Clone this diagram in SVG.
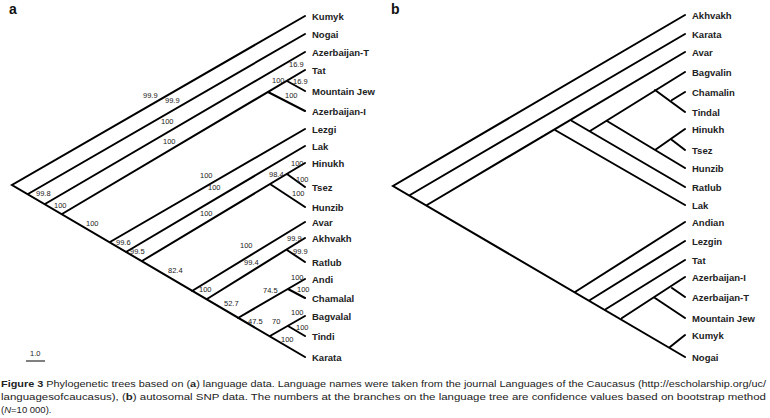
<svg xmlns="http://www.w3.org/2000/svg" width="770" height="418" viewBox="0 0 770 418">
<style>
.e{stroke:#000;stroke-width:2;fill:none;stroke-linecap:round}
.l{font-family:"Liberation Sans",Arial,sans-serif;font-size:9.5px;font-weight:bold;fill:#222}
.n{font-family:"Liberation Sans",Arial,sans-serif;font-size:7.5px;fill:#222}
.p{font-family:"Liberation Sans",Arial,sans-serif;font-size:14px;font-weight:bold;fill:#111}
.c{font-family:"Liberation Sans",Arial,sans-serif;font-size:9.5px;fill:#222}
</style>
<rect width="770" height="418" fill="#fff"/>
<text class="p" x="9" y="14">a</text>
<text class="p" x="391" y="14">b</text>
<g id="connectors">
<path class="e" d="M305,16L12,185L305,357M28,194L305,34M45,204L305,52M62,214L305,70M268,92L305,111M287,81L305,91M110,242L305,129M126,252L305,146M142,261L305,163M270,184L305,207M287,174L305,187M192,291L305,222M207,299L305,238M287,250L305,262M238,318L305,279M288,289L305,298M270,336L305,316M288,326L305,336"/>
<path class="e" d="M685,15L393,186L685,357M410,195L685,34M427,205L685,52M555,130L685,205M572,121L685,187M590,131L685,72M607,121L685,168M655,90L685,112M672,100L685,92M655,150L685,129M672,140L685,150M575,292L685,222M590,300L685,241M606,309L685,260M622,318L685,277M655,298L685,318M672,288L685,297M670,347L685,335"/>
<path d="M26,361H45" stroke="#000" stroke-width="1"/>
</g>
<g id="tree-a-labels">
<text class="l" x="312" y="20">Kumyk</text><text class="l" x="312" y="38">Nogai</text><text class="l" x="312" y="56">Azerbaijan-T</text><text class="l" x="312" y="74">Tat</text><text class="l" x="312" y="95">Mountain Jew</text><text class="l" x="312" y="115">Azerbaijan-I</text><text class="l" x="312" y="133">Lezgi</text><text class="l" x="312" y="150">Lak</text><text class="l" x="312" y="167">Hinukh</text><text class="l" x="312" y="191">Tsez</text><text class="l" x="312" y="211">Hunzib</text><text class="l" x="312" y="226">Avar</text><text class="l" x="312" y="242">Akhvakh</text><text class="l" x="312" y="266">Ratlub</text><text class="l" x="312" y="283">Andi</text><text class="l" x="312" y="302">Chamalal</text><text class="l" x="312" y="320">Bagvalal</text><text class="l" x="312" y="340">Tindi</text><text class="l" x="312" y="361">Karata</text>
</g>
<g id="tree-a-values">
<text class="n" x="143" y="98">99.9</text><text class="n" x="165" y="103">99.9</text><text class="n" x="161" y="124">100</text><text class="n" x="163" y="144">100</text><text class="n" x="289" y="67">16.9</text><text class="n" x="272" y="83">100</text><text class="n" x="293" y="84">16.9</text><text class="n" x="285" y="98">100</text><text class="n" x="200" y="178">100</text><text class="n" x="208" y="190">100</text><text class="n" x="291" y="166">100</text><text class="n" x="269" y="177">98.4</text><text class="n" x="296" y="182">100</text><text class="n" x="36" y="196">99.8</text><text class="n" x="54" y="208">100</text><text class="n" x="86" y="226">100</text><text class="n" x="292" y="196">100</text><text class="n" x="200" y="216">100</text><text class="n" x="116" y="245">99.6</text><text class="n" x="130" y="254">99.5</text><text class="n" x="168" y="273">82.4</text><text class="n" x="240" y="248">100</text><text class="n" x="287" y="241">99.9</text><text class="n" x="293" y="254">99.9</text><text class="n" x="244" y="265">99.4</text><text class="n" x="199" y="292">100</text><text class="n" x="224" y="306">52.7</text><text class="n" x="263" y="293">74.5</text><text class="n" x="291" y="280">100</text><text class="n" x="297" y="292">100</text><text class="n" x="248" y="324">47.5</text><text class="n" x="272" y="324">70</text><text class="n" x="291" y="315">100</text><text class="n" x="296" y="330">100</text><text class="n" x="281" y="342">100</text>
<text class="n" x="30" y="356">1.0</text>
</g>
<g id="tree-b-labels">
<text class="l" x="692" y="19">Akhvakh</text><text class="l" x="692" y="38">Karata</text><text class="l" x="692" y="56">Avar</text><text class="l" x="692" y="76">Bagvalin</text><text class="l" x="692" y="96">Chamalin</text><text class="l" x="692" y="116">Tindal</text><text class="l" x="692" y="133">Hinukh</text><text class="l" x="692" y="154">Tsez</text><text class="l" x="692" y="172">Hunzib</text><text class="l" x="692" y="191">Ratlub</text><text class="l" x="692" y="209">Lak</text><text class="l" x="692" y="226">Andian</text><text class="l" x="692" y="245">Lezgin</text><text class="l" x="692" y="264">Tat</text><text class="l" x="692" y="281">Azerbaijan-I</text><text class="l" x="692" y="301">Azerbaijan-T</text><text class="l" x="692" y="322">Mountain Jew</text><text class="l" x="692" y="339">Kumyk</text><text class="l" x="692" y="361">Nogai</text>
</g>
<g id="caption">
<text class="c" x="1" y="387" textLength="765" lengthAdjust="spacingAndGlyphs"><tspan font-weight="bold">Figure 3</tspan> Phylogenetic trees based on (<tspan font-weight="bold">a</tspan>) language data. Language names were taken from the journal Languages of the Caucasus (http://escholarship.org/uc/</text>
<text class="c" x="1" y="400" textLength="765" lengthAdjust="spacingAndGlyphs">languagesofcaucasus), (<tspan font-weight="bold">b</tspan>) autosomal SNP data. The numbers at the branches on the language tree are confidence values based on bootstrap method</text>
<text class="c" x="1" y="413">(<tspan font-style="italic">N</tspan>=10 000).</text>
</g>
</svg>
